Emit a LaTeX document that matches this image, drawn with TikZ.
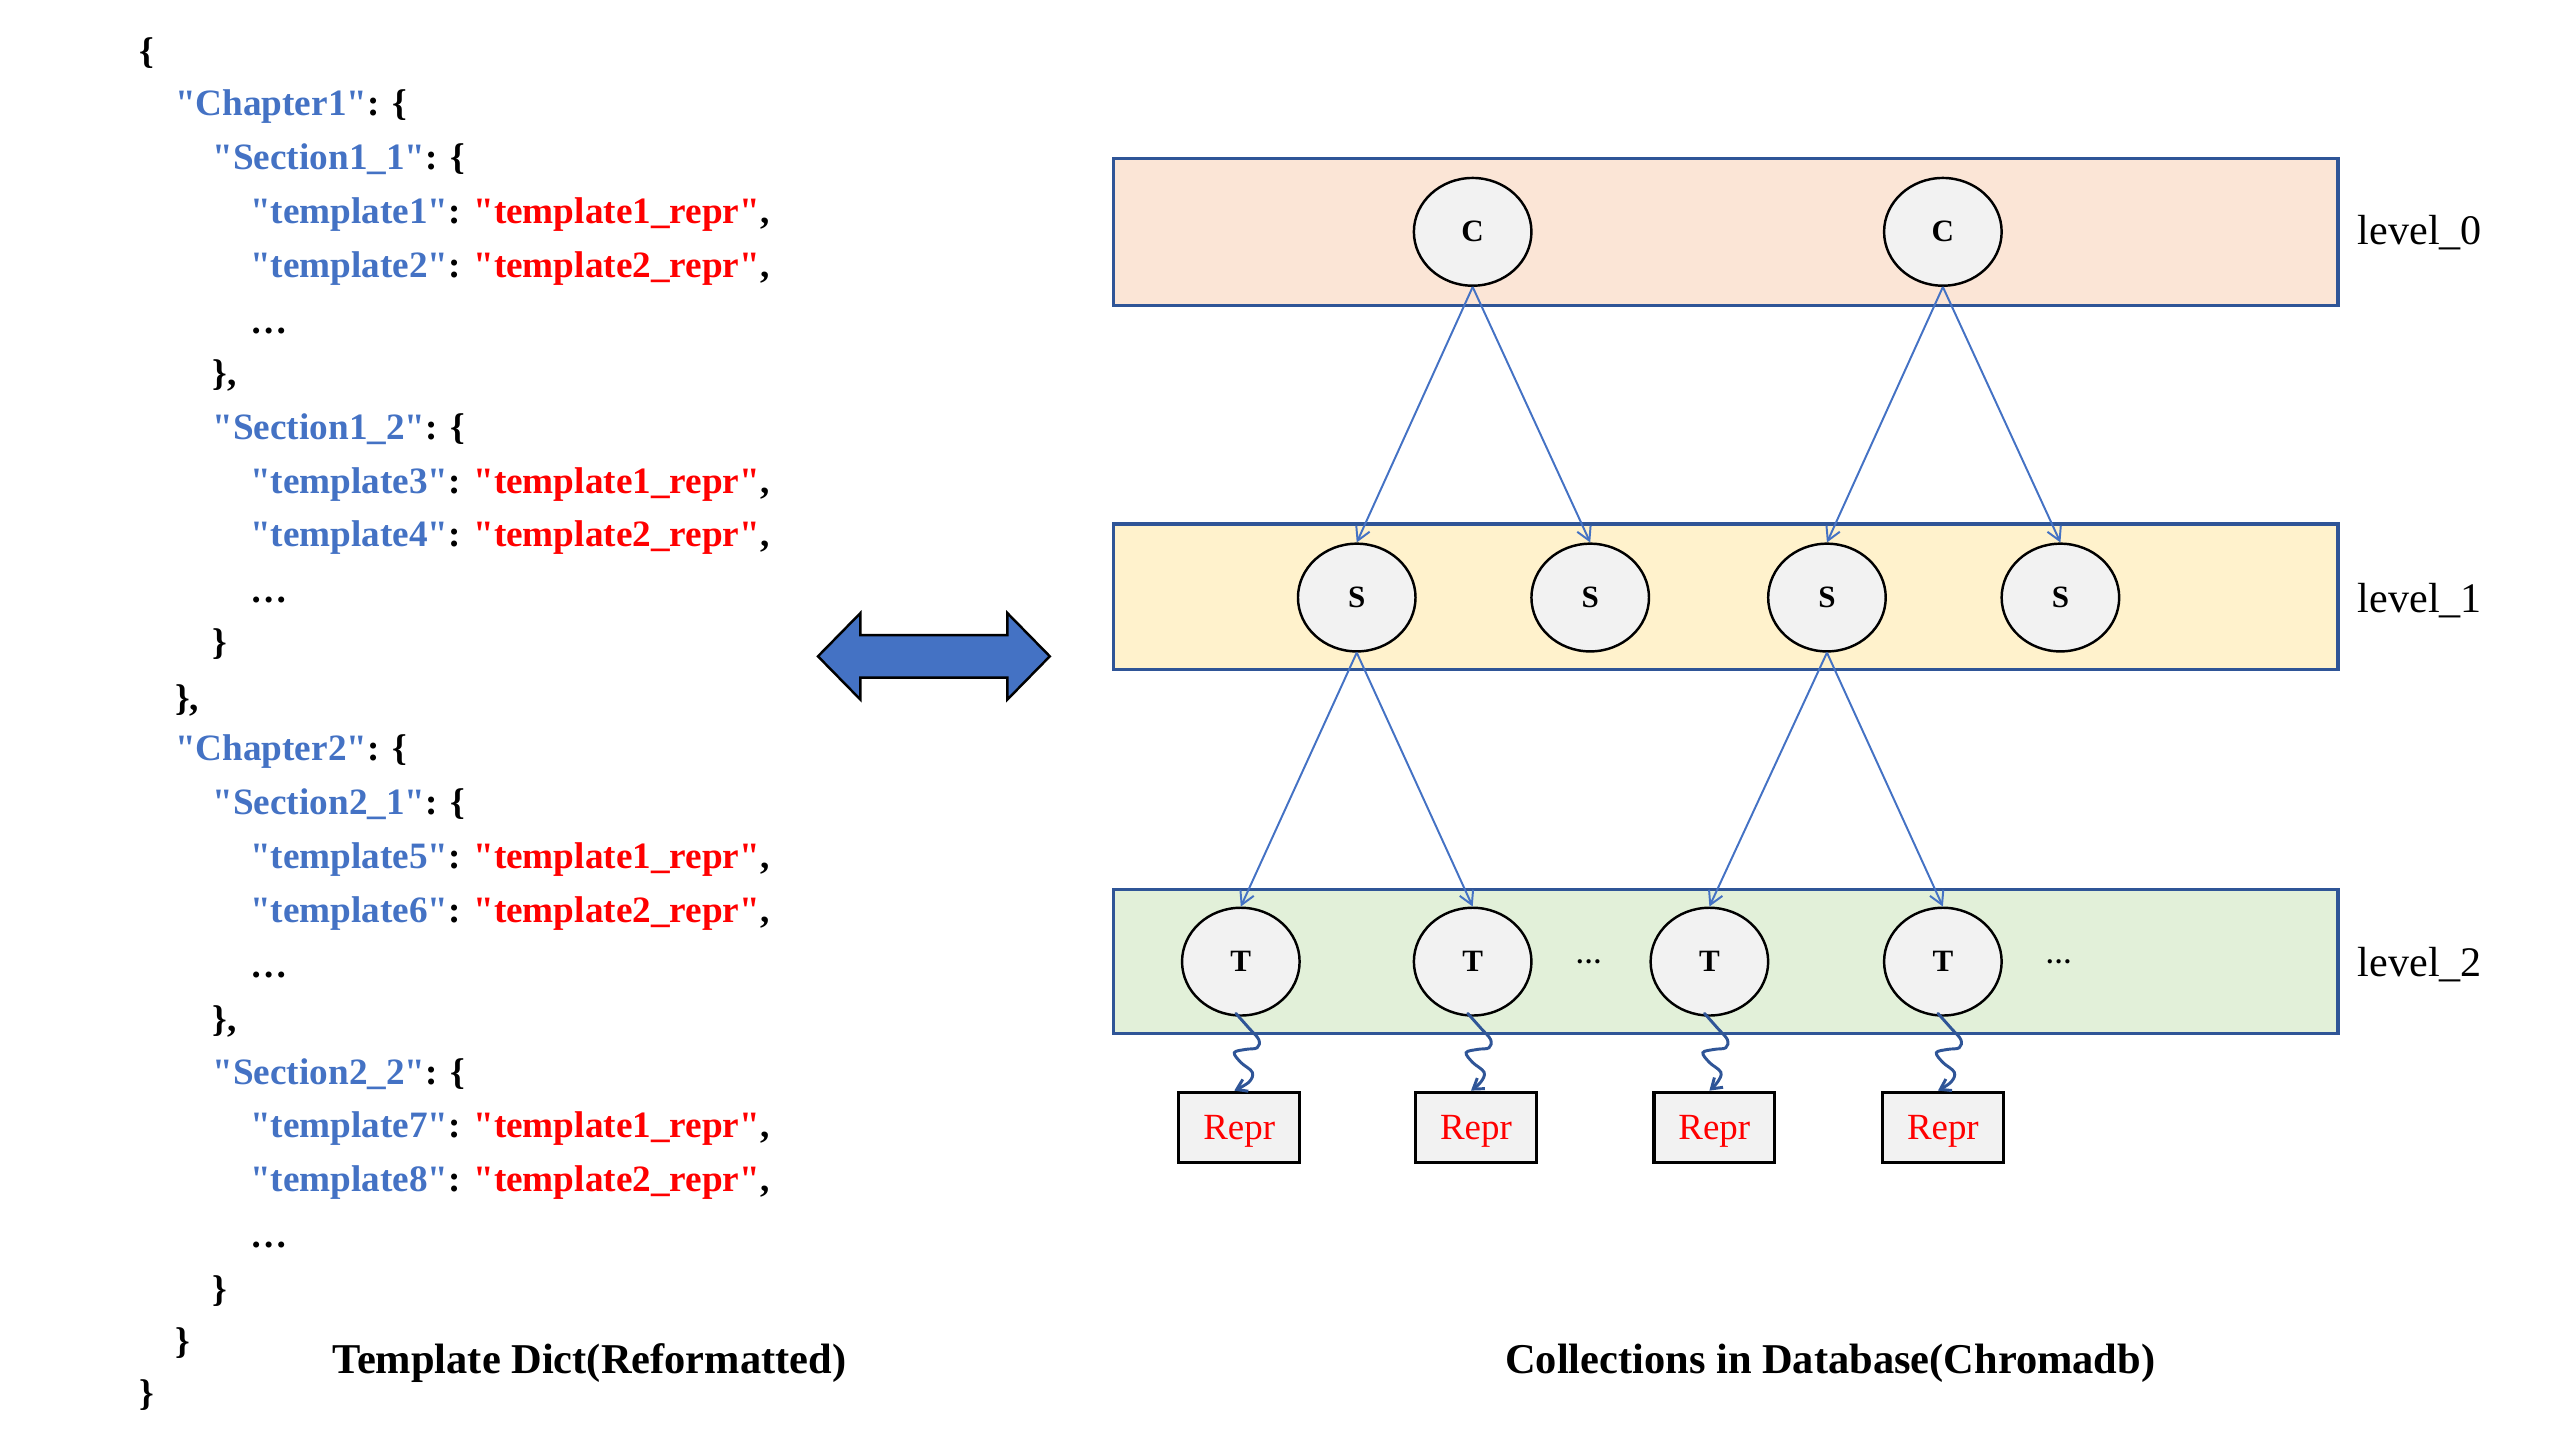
\documentclass[tikz,border=0pt]{standalone}
\usepackage{fontspec}
\setmainfont{Liberation Serif}[Ligatures=TeXOff]
\usetikzlibrary{arrows.meta,calc,shapes.geometric}
\definecolor{kblue}{HTML}{4472C4}
\definecolor{kred}{HTML}{FF0000}
\definecolor{kframe}{HTML}{2F5597}
\definecolor{lvA}{HTML}{FBE5D6}
\definecolor{lvB}{HTML}{FFF2CC}
\definecolor{lvC}{HTML}{E2F0D9}
\definecolor{nodegray}{HTML}{F2F2F2}
\newcommand\kk[1]{\textcolor{kblue}{"#1"}}
\newcommand\vv[1]{\textcolor{kred}{"#1"}}
\newcommand\wavy[2]{%
  \begin{scope}[shift={(#1.south)}]
    \draw[wave] plot[smooth,tension=0.6] coordinates {(-3,-2) (5,7) (11,14) (10,19) (3,20) (-4,22) (0,28) (7,34) (5,40) ([xshift=-3pt]#2.north)};
  \end{scope}}
\begin{document}
\begin{tikzpicture}[x=1pt,y=-1pt,
  code/.style={anchor=base west,inner sep=0pt,font=\fontsize{22.8}{24}\selectfont\bfseries},
  levelbox/.style={draw=kframe,line width=2pt,inner sep=0pt,minimum width=750pt},
  ell/.style={draw=black,line width=1.5pt,fill=nodegray,ellipse,minimum width=72pt,minimum height=66pt,inner sep=0pt,font=\fontsize{19}{20}\selectfont\bfseries},
  reprbox/.style={draw=black,line width=2pt,fill=nodegray,minimum width=74pt,minimum height=43pt,inner sep=0pt,text depth=0pt,text=kred,font=\fontsize{22.6}{24}\selectfont},
  tree/.style={draw=kblue,line width=1.2pt,-{Straight Barb[length=8pt,width=9pt]}},
  wave/.style={draw=kframe,line width=1.8pt,line cap=round,-{Straight Barb[length=6pt,width=8pt]}},
  lvl/.style={anchor=base west,inner sep=0pt,font=\fontsize{25.8}{28}\selectfont},
  capt/.style={anchor=base,inner sep=0pt,font=\fontsize{26}{28}\selectfont\bfseries},
  dotsn/.style={inner sep=0pt,font=\fontsize{16}{18}\selectfont\bfseries}
]
\useasboundingbox (0,0) rectangle (1568,882);

% ---- code listing ----
\node[code] (l1)  at (85,39)   {\{};
\node[code] (l2)  at (107,71)  {\kk{Chapter1}: \{};
\node[code] (l3)  at (130,104) {\kk{Section1\_1}: \{};
\node[code] (l4)  at (153,137) {\kk{template1}: \vv{template1\_repr},};
\node[code] (l5)  at (153,170) {\kk{template2}: \vv{template2\_repr},};
\node[code] (l6)  at (153,204) {…};
\node[code] (l7)  at (130,236) {\},};
\node[code] (l8)  at (130,269) {\kk{Section1\_2}: \{};
\node[code] (l9)  at (153,302) {\kk{template3}: \vv{template1\_repr},};
\node[code] (l10) at (153,335) {\kk{template4}: \vv{template2\_repr},};
\node[code] (l11) at (153,369) {…};
\node[code] (l12) at (130,401) {\}};
\node[code] (l13) at (107,435) {\},};
\node[code] (l14) at (107,466) {\kk{Chapter2}: \{};
\node[code] (l15) at (130,499) {\kk{Section2\_1}: \{};
\node[code] (l16) at (153,532) {\kk{template5}: \vv{template1\_repr},};
\node[code] (l17) at (153,565) {\kk{template6}: \vv{template2\_repr},};
\node[code] (l18) at (153,599) {…};
\node[code] (l19) at (130,632) {\},};
\node[code] (l20) at (130,664) {\kk{Section2\_2}: \{};
\node[code] (l21) at (153,697) {\kk{template7}: \vv{template1\_repr},};
\node[code] (l22) at (153,730) {\kk{template8}: \vv{template2\_repr},};
\node[code] (l23) at (153,764) {…};
\node[code] (l24) at (130,797) {\}};
\node[code] (l25) at (107,829) {\}};
\node[code] (l26) at (85,861)  {\}};

\node[capt] (cap1) at (361,841) {Template Dict(Reformatted)};
\node[capt] (cap2) at (1121,841) {Collections in Database(Chromadb)};

% ---- double arrow ----
\draw[draw=black,line width=1.5pt,fill=kblue,line join=miter]
  (501,402) -- (527,375.5) -- (527,389) -- (617,389) -- (617,375.5) -- (643,402)
  -- (617,428.5) -- (617,415) -- (527,415) -- (527,428.5) -- cycle;

% ---- level boxes ----
\node[levelbox,fill=lvA,minimum height=90pt] (L0) at (1057,142) {};
\node[levelbox,fill=lvB,minimum height=89pt] (L1) at (1057,365.5) {};
\node[levelbox,fill=lvC,minimum height=88pt] (L2) at (1057,589) {};
\node[lvl] (n0) at (1444,150) {level\_0};
\node[lvl] (n1) at (1444,375) {level\_1};
\node[lvl] (n2) at (1444,598) {level\_2};

% ---- tree nodes ----
\node[ell] (c1) at (902,142) {C};
\node[ell] (c2) at (1190,142) {C};
\node[ell] (s1) at (831,366) {S};
\node[ell] (s2) at (974,366) {S};
\node[ell] (s3) at (1119,366) {S};
\node[ell] (s4) at (1262,366) {S};
\node[ell] (t1) at (760,589) {T};
\node[ell] (t2) at (902,589) {T};
\node[ell] (t3) at (1047,589) {T};
\node[ell] (t4) at (1190,589) {T};
\node[dotsn] (d1) at (973,589) {…};
\node[dotsn] (d2) at (1261,589) {…};

\node[reprbox] (r1) at (759,690.5) {Repr};
\node[reprbox] (r2) at (904,690.5) {Repr};
\node[reprbox] (r3) at (1050,690.5) {Repr};
\node[reprbox] (r4) at (1190,690.5) {Repr};

% ---- connectors ----
\draw[tree] (c1.south) -- (s1.north);
\draw[tree] (c1.south) -- (s2.north);
\draw[tree] (c2.south) -- (s3.north);
\draw[tree] (c2.south) -- (s4.north);
\draw[tree] (s1.south) -- (t1.north);
\draw[tree] (s1.south) -- (t2.north);
\draw[tree] (s3.south) -- (t3.north);
\draw[tree] (s3.south) -- (t4.north);

\wavy{t1}{r1}
\wavy{t2}{r2}
\wavy{t3}{r3}
\wavy{t4}{r4}
\end{tikzpicture}
\end{document}
